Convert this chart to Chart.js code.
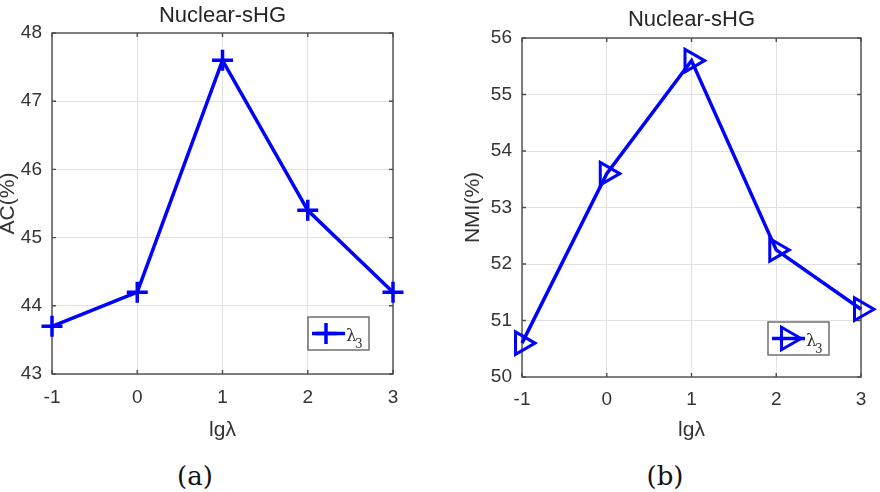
<!DOCTYPE html>
<html>
<head>
<meta charset="utf-8">
<script src="https://cdn.jsdelivr.net/npm/chart.js@4.4.1/dist/chart.umd.min.js"></script>
<style>
    body { margin: 0; background: #fff; }
    #wrap { position: relative; width: 880px; height: 492px; overflow: hidden; }
    canvas { position: absolute; top: 0; }
    .cap { position: absolute; font-family: "DejaVu Serif", serif; font-size: 26px; color: #111; transform: translate(-50%, -50%); }
</style>
</head>
<body>
<div id="wrap">
    <canvas id="acChart" width="440" height="445" style="left:0"></canvas>
    <canvas id="nmiChart" width="440" height="445" style="left:440px"></canvas>
    <div class="cap" style="left:195px; top:476px">(a)</div>
    <div class="cap" style="left:665px; top:476px">(b)</div>
</div>
<script>
// data
var lgLambda = [-1, 0, 1, 2, 3];
var xTickLabels = ['-1', '0', '1', '2', '3'];
var acValues = [43.7, 44.2, 47.6, 45.4, 44.2];
var acTickLabels = ['43', '44', '45', '46', '47', '48'];
var nmiValues = [50.6, 53.6, 55.6, 52.25, 51.2];
var nmiTickLabels = ['50', '51', '52', '53', '54', '55', '56'];
var chartTitle = 'Nuclear-sHG';
var xTitle = 'lgλ';
var seriesName = 'λ₃';

var FONT = '"Liberation Sans", Arial, sans-serif';
var BLUE = '#0000ff';

// box around the axes with small inward ticks (matlab style)
var framePlugin = {
    id: 'frame',
    beforeDatasetsDraw: function (chart) {
        var a = chart.chartArea, ctx = chart.ctx;
        var xs = chart.scales.x, ys = chart.scales.y;
        ctx.save();
        ctx.strokeStyle = '#4d4d4d';
        ctx.lineWidth = 1.4;
        ctx.strokeRect(a.left, a.top, a.right - a.left, a.bottom - a.top);
        ctx.beginPath();
        xs.ticks.forEach(function (t) {
            var px = xs.getPixelForValue(t.value);
            ctx.moveTo(px, a.bottom); ctx.lineTo(px, a.bottom - 4);
            ctx.moveTo(px, a.top); ctx.lineTo(px, a.top + 4);
        });
        ys.ticks.forEach(function (t) {
            var py = ys.getPixelForValue(t.value);
            ctx.moveTo(a.left, py); ctx.lineTo(a.left + 4, py);
            ctx.moveTo(a.right, py); ctx.lineTo(a.right - 4, py);
        });
        ctx.stroke();
        ctx.restore();
    }
};

function drawMarker(ctx, style, x, y, r) {
    ctx.beginPath();
    if (style === 'cross') {
        ctx.moveTo(x - r, y); ctx.lineTo(x + r, y);
        ctx.moveTo(x, y - r); ctx.lineTo(x, y + r);
    } else {
        ctx.moveTo(x + r, y);
        ctx.lineTo(x - r / 2, y - r * 0.866);
        ctx.lineTo(x - r / 2, y + r * 0.866);
        ctx.closePath();
    }
    ctx.stroke();
}

// legend box inside the axes, lower right
var boxLegendPlugin = {
    id: 'boxLegend',
    afterDatasetsDraw: function (chart, args, opts) {
        var a = chart.chartArea, ctx = chart.ctx;
        var x0 = a.right - opts.right - opts.width;
        var y0 = a.bottom - opts.bottom - opts.height;
        var cy = y0 + opts.height / 2;
        ctx.save();
        ctx.fillStyle = '#fff';
        ctx.fillRect(x0, y0, opts.width, opts.height);
        ctx.strokeStyle = '#666';
        ctx.lineWidth = 1.4;
        ctx.strokeRect(x0, y0, opts.width, opts.height);
        ctx.strokeStyle = BLUE;
        ctx.lineWidth = 3.5;
        ctx.beginPath();
        ctx.moveTo(x0 + 4, cy); ctx.lineTo(x0 + 37, cy);
        ctx.stroke();
        ctx.lineWidth = opts.markerWidth;
        drawMarker(ctx, opts.marker, x0 + opts.markerX, cy, opts.markerSize);
        ctx.fillStyle = '#333';
        ctx.textBaseline = 'alphabetic';
        ctx.font = '17px "DejaVu Serif", serif';
        ctx.fillText('λ', x0 + 38, cy + 7);
        ctx.font = '12px "DejaVu Serif", serif';
        ctx.fillText('3', x0 + 47, cy + 14);
        ctx.restore();
    }
};

function buildOptions(p) {
    return {
        responsive: false,
        animation: false,
        events: [],
        layout: { padding: { left: p.padLeft, right: p.padRight, top: 0, bottom: 0 } },
        plugins: {
            legend: { display: false },
            tooltip: { enabled: false },
            title: {
                display: true,
                text: chartTitle,
                fullSize: false,
                color: '#262626',
                font: { family: FONT, size: 22, weight: 'normal' },
                padding: { top: p.titleTop, bottom: p.titleBottom }
            },
            boxLegend: p.legend
        },
        scales: {
            x: {
                type: 'linear',
                min: -1,
                max: 3,
                afterFit: function (s) { s.height = p.xHeight; },
                ticks: {
                    stepSize: 1,
                    padding: p.xTickPad,
                    color: '#333',
                    font: { family: FONT, size: 19 },
                    callback: function (v, i) { return xTickLabels[i]; }
                },
                grid: { color: '#e1e1e1', drawTicks: false },
                border: { display: false },
                title: {
                    display: true,
                    text: xTitle,
                    color: '#333',
                    font: { family: FONT, size: 21, lineHeight: 1 },
                    padding: { top: 0, bottom: 4 }
                }
            },
            y: {
                min: p.yMin,
                max: p.yMax,
                afterFit: function (s) { s.width = p.yWidth; },
                ticks: {
                    stepSize: 1,
                    padding: 10,
                    color: '#333',
                    font: { family: FONT, size: 19 },
                    callback: function (v, i) { return p.yTickLabels[i]; }
                },
                grid: { color: '#e1e1e1', drawTicks: false },
                border: { display: false },
                title: {
                    display: true,
                    text: p.yTitle,
                    color: '#333',
                    font: { family: FONT, size: 21, lineHeight: 1 },
                    padding: { top: -2, bottom: 0 }
                }
            }
        }
    };
}

var acChart = new Chart(document.getElementById('acChart').getContext('2d'), {
    type: 'line',
    data: {
        datasets: [{
            label: seriesName,
            data: lgLambda.map(function (x, i) { return { x: x, y: acValues[i] }; }),
            borderColor: BLUE,
            borderWidth: 3.5,
            pointStyle: 'cross',
            pointRadius: 10.5,
            pointBorderWidth: 3.5,
            pointBorderColor: BLUE,
            pointBackgroundColor: 'rgba(0,0,0,0)',
            tension: 0,
            clip: false
        }]
    },
    options: buildOptions({
        padLeft: 0, padRight: 47, yWidth: 52, xHeight: 71, xTickPad: 12,
        titleTop: 2.8, titleBottom: 3.8,
        yMin: 43, yMax: 48, yTickLabels: acTickLabels, yTitle: 'AC(%)',
        legend: { right: 24, bottom: 24, width: 61, height: 33, marker: 'cross', markerX: 18, markerSize: 10.5, markerWidth: 3.5 }
    }),
    plugins: [framePlugin, boxLegendPlugin]
});

var nmiChart = new Chart(document.getElementById('nmiChart').getContext('2d'), {
    type: 'line',
    data: {
        datasets: [{
            label: seriesName,
            data: lgLambda.map(function (x, i) { return { x: x, y: nmiValues[i] }; }),
            borderColor: BLUE,
            borderWidth: 3.5,
            pointStyle: 'triangle',
            rotation: 90,
            pointRadius: 13,
            pointBorderWidth: 3,
            pointBorderColor: BLUE,
            pointBackgroundColor: 'rgba(0,0,0,0)',
            tension: 0,
            clip: false
        }]
    },
    options: buildOptions({
        padLeft: 24.5, padRight: 19, yWidth: 57.5, xHeight: 68, xTickPad: 11,
        titleTop: 6.8, titleBottom: 4.8,
        yMin: 50, yMax: 56, yTickLabels: nmiTickLabels, yTitle: 'NMI(%)',
        legend: { right: 32, bottom: 22, width: 61, height: 33, marker: 'triangle', markerX: 20, markerSize: 13, markerWidth: 3 }
    }),
    plugins: [framePlugin, boxLegendPlugin]
});
</script>
</body>
</html>
